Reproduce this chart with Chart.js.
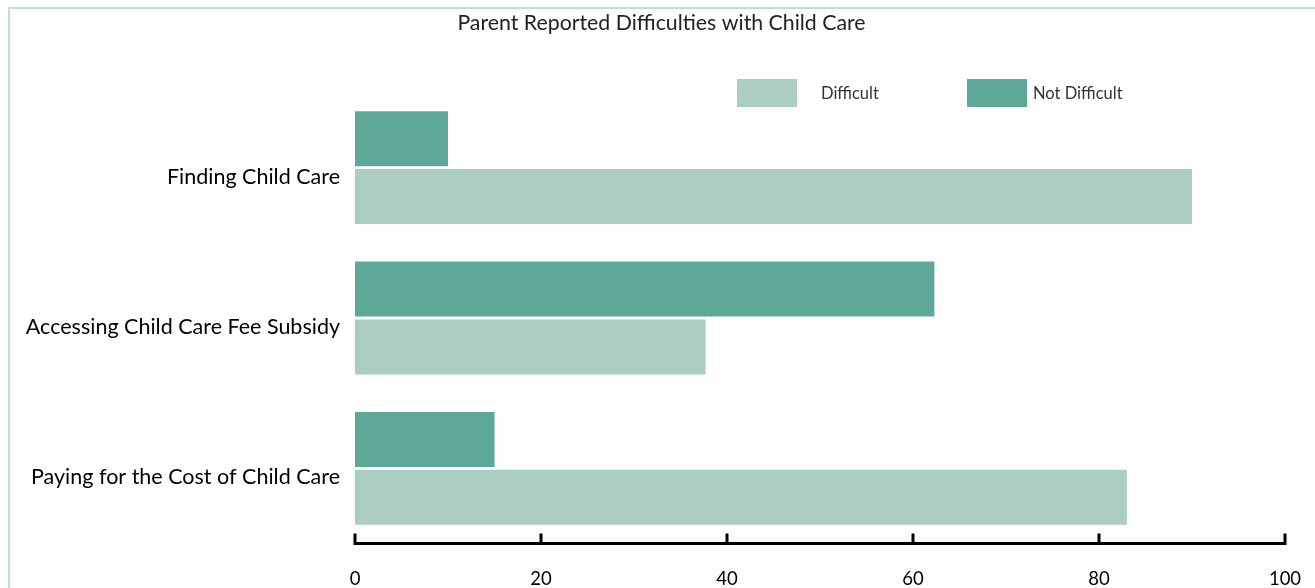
<!DOCTYPE html>
<html>
<head>
<meta charset="utf-8">
<script src="https://cdn.jsdelivr.net/npm/chart.js@4.4.0/dist/chart.umd.min.js"></script>
<style>
  html, body { margin: 0; padding: 0; background: #fff; overflow: hidden; }
  #frame {
    position: absolute; left: 8px; top: 7px; width: 1400px; height: 700px;
    border: 2px solid #bddbe2; box-sizing: border-box;
  }
  #wrap { position: absolute; left: 0; top: 0; width: 1315px; height: 588px; }
</style>
</head>
<body>
<div id="frame"></div>
<div id="wrap"><canvas id="chart"></canvas></div>
<script>
// === DATOS ===
const categories = ["Finding Child Care", "Accessing Child Care Fee Subsidy", "Paying for the Cost of Child Care"];
const notDifficult = [10, 62.3, 15];
const difficult = [90, 37.7, 83];
const xTicks = [0, 20, 40, 60, 80, 100];
const chartTitle = "Parent Reported Difficulties with Child Care";

const FONT = "Lato, 'Open Sans', sans-serif";
const colorDark = "#5ea898";
const colorLight = "#accdc2";

// Eje inferior con marcas hacia arriba
const axisPlugin = {
  id: "axisLine",
  afterDatasetsDraw(chart) {
    const ctx = chart.ctx;
    const x = chart.scales.x;
    const y = chart.chartArea.bottom;
    ctx.save();
    ctx.strokeStyle = "#000";
    ctx.lineWidth = 3;
    ctx.beginPath();
    ctx.moveTo(x.getPixelForValue(xTicks[0]) - 1.5, y);
    ctx.lineTo(x.getPixelForValue(xTicks[xTicks.length - 1]) + 1.5, y);
    xTicks.forEach(v => {
      const px = x.getPixelForValue(v);
      ctx.moveTo(px, y + 1.5);
      ctx.lineTo(px, y - 10);
    });
    ctx.stroke();
    ctx.restore();
  }
};

// Título y leyenda dibujados a mano (Difficult primero)
const headerPlugin = {
  id: "header",
  afterDraw(chart) {
    const ctx = chart.ctx;
    ctx.save();
    ctx.font = "21.3px " + FONT;
    ctx.fillStyle = "#222";
    ctx.textAlign = "center";
    ctx.textBaseline = "middle";
    ctx.fillText(chartTitle, 661.5, 23);

    const items = [
      { label: "Difficult", color: colorLight, x: 737, textX: 821 },
      { label: "Not Difficult", color: colorDark, x: 967, textX: 1033 }
    ];
    ctx.font = "16.5px " + FONT;
    ctx.textAlign = "left";
    items.forEach(it => {
      ctx.fillStyle = it.color;
      ctx.fillRect(it.x, 79, 60, 28);
      ctx.fillStyle = "#333";
      ctx.fillText(it.label, it.textX, 94);
    });
    ctx.restore();
  }
};

new Chart(document.getElementById("chart").getContext("2d"), {
  type: "bar",
  data: {
    labels: categories,
    datasets: [
      { label: "Not Difficult", data: notDifficult, backgroundColor: colorDark },
      { label: "Difficult", data: difficult, backgroundColor: colorLight }
    ]
  },
  options: {
    indexAxis: "y",
    responsive: true,
    maintainAspectRatio: false,
    animation: false,
    datasets: { bar: { categoryPercentage: 0.77, barPercentage: 0.95 } },
    layout: { padding: { left: 0, right: 30, top: 92.5, bottom: 0 } },
    plugins: {
      legend: { display: false },
      tooltip: { enabled: false },
      title: { display: false }
    },
    scales: {
      x: {
        min: 0,
        max: 100,
        afterBuildTicks(scale) { scale.ticks = xTicks.map(v => ({ value: v })); },
        afterFit(scale) {
          scale.height = 44.5;
          scale.paddingRight = 0;
        },
        grid: { display: false },
        border: { display: false },
        ticks: { color: "#000", padding: 16, font: { family: FONT, size: 18.5 } }
      },
      y: {
        afterFit(scale) { scale.width = 355; },
        grid: { display: false },
        border: { display: false },
        ticks: { color: "#000", padding: 7, labelOffset: 9, font: { family: FONT, size: 21.5 } }
      }
    }
  },
  plugins: [axisPlugin, headerPlugin]
});
</script>
</body>
</html>
